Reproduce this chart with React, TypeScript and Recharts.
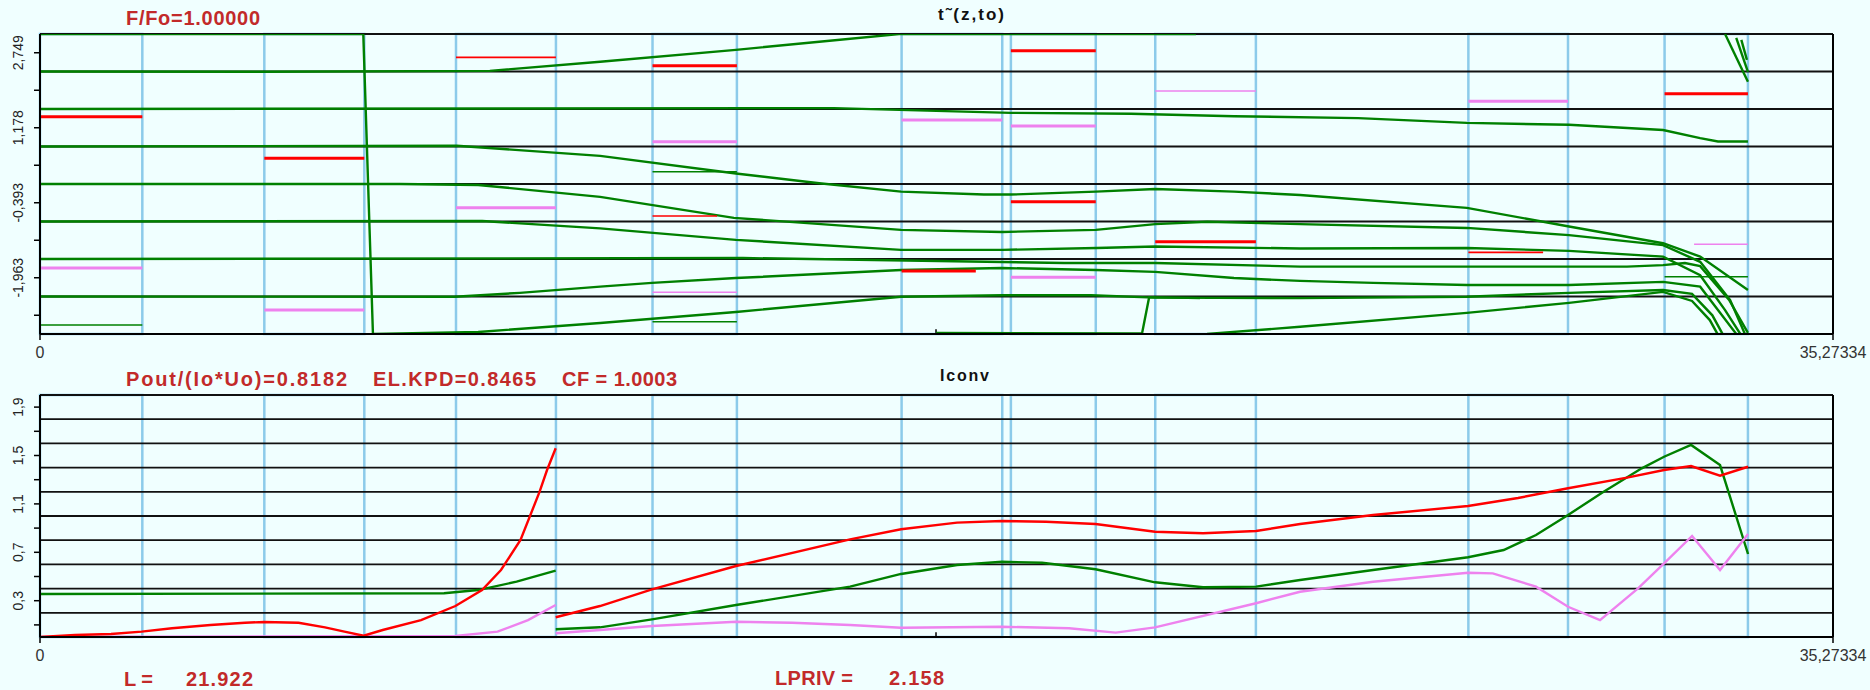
import { LineChart, Line, XAxis, YAxis, ReferenceLine, ReferenceArea } from 'recharts';

const PI = Math.PI;
const Z_MAX = 35.27334;

// cavity gaps along z: [start, end]
const cavities = [
  [0, 2.013], [4.413, 6.38], [8.184, 10.15], [12.05, 13.71], [16.95, 18.93],
  [19.1, 20.77], [21.94, 23.92], [28.1, 30.06], [31.96, 33.6],
];

// electron phase trajectories t~(z,to): [z, phase]
const trajA = [[0, 3.14], [6.36, 3.14], [6.55, -3.14], [8.62, -3.1], [11.02, -2.91], [13.69, -2.68], [16.94, -2.36], [18.93, -2.33], [20.68, -2.33], [21.94, -2.38], [24.79, -2.39], [28.07, -2.36], [30.08, -2.28], [31.93, -2.22], [32.5, -2.3], [32.9, -2.75], [33.1, -3.14]];
const trajB = [[0, 2.356], [4.41, 2.35], [8.85, 2.37], [11.02, 2.56], [13.69, 2.81], [15.33, 2.98], [16.9, 3.14], [22.74, 3.14]];
const trajC = [[0, 1.571], [15.62, 1.59], [19.1, 1.49], [21.46, 1.47], [23.49, 1.42], [25.93, 1.38], [28.07, 1.28], [30.08, 1.24], [31.93, 1.13], [32.66, 0.96], [33.01, 0.89], [33.6, 0.89]];
const trajD = [[0, 0.785], [8.2, 0.8], [11.02, 0.59], [13.69, 0.22], [15.33, 0.015], [16.94, -0.16], [18.57, -0.22], [19.1, -0.22], [20.77, -0.16], [21.94, -0.105], [23.49, -0.16], [24.79, -0.23], [28.07, -0.5], [30.08, -0.89], [31.93, -1.24], [32.66, -1.52], [33.6, -2.22]];
const trajE = [[0, 0], [7.08, 0], [8.62, -0.02], [11.02, -0.27], [13.65, -0.71], [16.94, -0.96], [18.93, -1.005], [20.77, -0.96], [21.94, -0.84], [22.96, -0.79], [24.79, -0.84], [28.07, -0.92], [30.08, -1.07], [31.93, -1.28], [32.66, -1.63], [33.25, -2.43], [33.54, -3.14]];
const trajF = [[0, -0.785], [8.7, -0.775], [11.02, -0.93], [13.69, -1.17], [16.94, -1.38], [18.93, -1.38], [20.78, -1.34], [21.94, -1.31], [24.79, -1.35], [28.07, -1.34], [30.08, -1.4], [31.93, -1.52], [32.66, -1.91], [33.15, -2.64], [33.45, -3.14]];
const trajG = [[0, -1.571], [13.83, -1.55], [20.15, -1.655], [21.94, -1.655], [24.79, -1.73], [31.22, -1.73], [31.93, -1.7], [32.36, -1.655], [32.66, -1.72], [33.23, -2.43], [33.6, -3.12]];
const trajH = [[0, -2.356], [8.16, -2.36], [9.44, -2.28], [11.02, -2.15], [12.04, -2.07], [13.69, -1.97], [16.94, -1.8], [18.93, -1.76], [20.77, -1.8], [21.94, -1.84], [23.49, -1.97], [24.79, -2.03], [26.23, -2.07], [28.07, -2.115], [30.08, -2.115], [31.93, -2.05], [32.66, -2.15], [33.37, -3.14]];
const trajI = [[17.63, -3.12], [21.68, -3.13], [21.82, -2.37], [22.82, -2.39]];
const trajJ = [[22.96, -3.14], [24.79, -2.99], [28.07, -2.7], [30.08, -2.49], [31.93, -2.26], [32.5, -2.45], [32.85, -2.85], [33.0, -3.14]];
const trajK = [[33.15, 3.14], [33.6, 2.14]];
const trajL = [[33.37, 3.06], [33.6, 2.35]];
const trajM = [[33.47, 3.02], [33.58, 2.6]];
const trajectories = [trajA, trajB, trajC, trajD, trajE, trajF, trajG, trajH, trajI, trajJ, trajK, trajL, trajM];

// short phase levels inside the gaps: [zStart, zEnd, phase]
const greenLevelsThin = [[0, 2.013, -2.953], [12.05, 13.71, -2.884], [12.05, 13.71, 0.258], [31.96, 33.6, -1.942]];
const redLevels = [[0, 2.013, 1.41], [4.413, 6.38, 0.538], [12.05, 13.71, 2.478], [16.95, 18.41, -1.822], [19.1, 20.77, 2.792], [19.1, 20.77, -0.37], [21.94, 23.92, -1.208], [31.96, 33.6, 1.891]];
const redLevelsThin = [[8.184, 10.15, 2.653], [12.05, 13.32, -0.67], [28.1, 29.57, -1.431]];
const pinkLevels = [[0, 2.013, -1.76], [4.413, 6.38, -2.64], [8.184, 10.15, -0.496], [12.05, 13.71, 0.886], [16.95, 18.93, 1.34], [19.1, 20.77, 1.215], [19.1, 20.77, -1.954], [28.1, 30.06, 1.732]];
const pinkLevelsThin = [[12.05, 13.71, -2.268], [21.94, 23.92, 1.948], [32.54, 33.6, -1.263]];

// Iconv curves: [z, value]
const iconvRed1 = [[0, 0], [0.689, 0.017], [1.397, 0.025], [1.999, 0.044], [2.597, 0.072], [3.354, 0.099], [4.033, 0.118], [4.407, 0.124], [5.086, 0.118], [5.607, 0.08], [5.989, 0.044], [6.366, 0.011], [6.742, 0.058], [7.496, 0.14], [8.172, 0.256], [8.696, 0.388], [9.069, 0.554], [9.453, 0.802], [9.829, 1.201], [9.975, 1.38], [10.145, 1.56]];
const iconvRed2 = [[10.145, 0.163], [11.017, 0.256], [12.04, 0.394], [13.693, 0.587], [15.936, 0.807], [16.939, 0.89], [18.04, 0.945], [18.926, 0.959], [19.792, 0.953], [20.766, 0.934], [21.936, 0.87], [22.88, 0.857], [23.923, 0.876], [24.789, 0.934], [26.225, 1.008], [28.094, 1.083], [29.077, 1.149], [30.061, 1.229], [31.222, 1.317], [31.95, 1.38], [32.481, 1.413], [33.051, 1.333], [33.602, 1.407]];
const iconvGreen1 = [[0, 0.355], [7.948, 0.361], [8.617, 0.388], [9.376, 0.457], [10.145, 0.548]];
const iconvGreen2 = [[10.145, 0.064], [11.017, 0.08], [12.04, 0.146], [13.693, 0.264], [15.936, 0.416], [16.939, 0.521], [18.04, 0.595], [18.926, 0.622], [19.713, 0.614], [20.766, 0.56], [21.936, 0.452], [22.88, 0.411], [23.923, 0.416], [24.789, 0.471], [26.225, 0.554], [28.094, 0.659], [28.794, 0.719], [29.431, 0.843], [30.061, 1.008], [30.73, 1.193], [31.511, 1.394], [31.95, 1.49], [32.481, 1.587], [33.051, 1.421], [33.602, 0.686]];
const iconvPink1 = [[0, 0], [8.172, 0.008], [9.001, 0.044], [9.601, 0.14], [10.145, 0.264]];
const iconvPink2 = [[10.145, 0.031], [11.017, 0.058], [12.04, 0.091], [13.693, 0.126], [14.794, 0.118], [15.936, 0.099], [16.939, 0.077], [18.926, 0.085], [20.244, 0.072], [21.161, 0.036], [21.936, 0.08], [23.923, 0.279], [24.789, 0.374], [26.225, 0.457], [28.094, 0.531], [28.58, 0.526], [29.431, 0.416], [30.061, 0.25], [30.69, 0.14], [31.438, 0.402], [31.95, 0.609], [32.501, 0.835], [33.051, 0.554], [33.602, 0.851]];

// axes
const zTicks = [0, Z_MAX];
const zTickLabels = ['0', '35,27334'];
const markerZ = 17.627;
const phaseTicks = [7 * PI / 8, 5 * PI / 8, 3 * PI / 8, PI / 8, -PI / 8, -3 * PI / 8, -5 * PI / 8, -7 * PI / 8];
const phaseTickLabels = ['2,749', '', '1,178', '', '-0,393', '', '-1,963', ''];
const phaseGrid = [-PI, -3 * PI / 4, -PI / 2, -PI / 4, 0, PI / 4, PI / 2, 3 * PI / 4, PI];
const iconvTicks = [1.9, 1.7, 1.5, 1.3, 1.1, 0.9, 0.7, 0.5, 0.3, 0.1];
const iconvTickLabels = ['1,9', '', '1,5', '', '1,1', '', '0,7', '', '0,3', ''];
const iconvGrid = [0, 0.2, 0.4, 0.6, 0.8, 1, 1.2, 1.4, 1.6, 1.8, 2];

const FONT = '"Liberation Sans", Arial, sans-serif';
const BG = '#f0ffff';
const GREEN = '#008000';
const RED = '#ff0000';
const PINK = '#ee82ee';
const BLUE = '#8ccbea';
const TITLE_RED = '#c22a2a';

const toPts = (arr: number[][]) => arr.map(([z, v]) => ({ z, v }));
const toSeg = ([a, b, v]: number[]) => [{ z: a, v }, { z: b, v }];

const findLabel = (ticks: number[], labels: string[], value: number) => {
  const i = ticks.findIndex((t) => Math.abs(t - value) < 1e-6);
  return i >= 0 ? labels[i] : '';
};

const makeYTick = (ticks: number[], labels: string[]) => (props: any) => {
  const { x, y, payload } = props;
  const label = findLabel(ticks, labels, payload.value);
  const cx = x - 14;
  return (
    <text x={cx} y={y} transform={`rotate(-90 ${cx} ${y})`} textAnchor="middle" dominantBaseline="central"
      fontSize={14} fill="#222" fontFamily={FONT}>{label}</text>
  );
};

const ZTick = (props: any) => {
  const { x, y, payload } = props;
  return (
    <text x={x} y={y + 10} textAnchor="middle" dominantBaseline="central" fontSize={16} fill="#333" fontFamily={FONT}>
      {findLabel(zTicks, zTickLabels, payload.value)}
    </text>
  );
};

const PhaseTick = makeYTick(phaseTicks, phaseTickLabels);
const IconvTick = makeYTick(iconvTicks, iconvTickLabels);

const axisLine = { stroke: '#000', strokeWidth: 2 };
const tickLine = { stroke: '#000', strokeWidth: 1.5 };

function levelLines(levels: number[][], color: string, width: number, key: string) {
  return levels.map((s, i) => (
    <Line key={`${key}${i}`} data={toSeg(s)} dataKey="v" stroke={color} strokeWidth={width}
      dot={false} activeDot={false} isAnimationActive={false} />
  ));
}

function curve(arr: number[][], color: string, width: number, key: string) {
  return (
    <Line key={key} data={toPts(arr)} dataKey="v" type="linear" stroke={color} strokeWidth={width}
      dot={false} activeDot={false} isAnimationActive={false} />
  );
}

export default function App() {
  return (
    <div style={{ position: 'fixed', left: 0, top: 0, width: 1870, height: 690, background: BG, overflow: 'hidden' }}>
      <div style={{ position: 'absolute', left: 0, top: 0 }}>
        <LineChart width={1870} height={365} margin={{ top: 34, right: 37, bottom: 0, left: 0 }}>
          <XAxis type="number" dataKey="z" domain={[0, Z_MAX]} ticks={zTicks} interval={0} allowDataOverflow
            height={31} tickSize={6} axisLine={axisLine} tickLine={tickLine} tick={<ZTick />} />
          <YAxis type="number" domain={[-PI, PI]} ticks={phaseTicks} interval={0} allowDataOverflow
            width={40} tickSize={6} axisLine={axisLine} tickLine={tickLine} tick={<PhaseTick />} />
          {phaseGrid.map((g) => (
            <ReferenceLine key={`g${g}`} y={g} stroke="#111" strokeWidth={1.8} />
          ))}
          <ReferenceLine x={Z_MAX} stroke="#000" strokeWidth={2} />
          <ReferenceLine segment={[{ x: markerZ, y: -PI }, { x: markerZ, y: -PI + 0.1 }]} stroke="#000" strokeWidth={1.5} />
          {cavities.map(([a, b]) => (
            <ReferenceArea key={`c${a}`} x1={a} x2={b} y1={-PI} y2={PI} fill="none" fillOpacity={0}
              stroke={BLUE} strokeWidth={2.5} />
          ))}
          {trajectories.map((t, i) => curve(t, GREEN, 2.4, `t${i}`))}
          {levelLines(greenLevelsThin, GREEN, 1.4, 'gl')}
          {levelLines(pinkLevels, PINK, 3, 'pk')}
          {levelLines(pinkLevelsThin, PINK, 1.6, 'pt')}
          {levelLines(redLevels, RED, 3, 'rk')}
          {levelLines(redLevelsThin, RED, 1.6, 'rt')}
        </LineChart>
      </div>
      <div style={{ position: 'absolute', left: 0, top: 365 }}>
        <LineChart width={1870} height={325} margin={{ top: 30, right: 37, bottom: 22, left: 0 }}>
          <XAxis type="number" dataKey="z" domain={[0, Z_MAX]} ticks={zTicks} interval={0} allowDataOverflow
            height={31} tickSize={6} axisLine={axisLine} tickLine={tickLine} tick={<ZTick />} />
          <YAxis type="number" domain={[0, 2]} ticks={iconvTicks} interval={0} allowDataOverflow
            width={40} tickSize={6} axisLine={axisLine} tickLine={tickLine} tick={<IconvTick />} />
          {iconvGrid.map((g) => (
            <ReferenceLine key={`h${g}`} y={g} stroke="#111" strokeWidth={1.8} />
          ))}
          <ReferenceLine x={Z_MAX} stroke="#000" strokeWidth={2} />
          <ReferenceLine segment={[{ x: markerZ, y: 0 }, { x: markerZ, y: 0.04 }]} stroke="#000" strokeWidth={1.5} />
          {cavities.map(([a, b]) => (
            <ReferenceArea key={`d${a}`} x1={a} x2={b} y1={0} y2={2} fill="none" fillOpacity={0}
              stroke={BLUE} strokeWidth={2.5} />
          ))}
          {curve(iconvGreen1, GREEN, 2.4, 'g1')}
          {curve(iconvGreen2, GREEN, 2.4, 'g2')}
          {curve(iconvPink1, PINK, 2.4, 'p1')}
          {curve(iconvPink2, PINK, 2.4, 'p2')}
          {curve(iconvRed1, RED, 2.4, 'r1')}
          {curve(iconvRed2, RED, 2.4, 'r2')}
        </LineChart>
      </div>
      <svg width={1870} height={690} style={{ position: 'absolute', left: 0, top: 0, pointerEvents: 'none' }}>
        <g fontFamily={FONT} fontWeight="bold">
          <text x={126} y={25} fontSize={20} fill={TITLE_RED} textLength={134} lengthAdjust="spacing">F/Fo=1.00000</text>
          <text x={938} y={20} fontSize={17} fill="#111" textLength={66} lengthAdjust="spacing">t˜(z,to)</text>
          <text x={126} y={386} fontSize={20} fill={TITLE_RED} textLength={221} lengthAdjust="spacing">Pout/(Io*Uo)=0.8182</text>
          <text x={373} y={386} fontSize={20} fill={TITLE_RED} textLength={163} lengthAdjust="spacing">EL.KPD=0.8465</text>
          <text x={562} y={386} fontSize={20} fill={TITLE_RED} textLength={115} lengthAdjust="spacing">CF = 1.0003</text>
          <text x={940} y={381} fontSize={16} fill="#111" textLength={49} lengthAdjust="spacing">Iconv</text>
          <text x={124} y={686} fontSize={20} fill={TITLE_RED} textLength={29} lengthAdjust="spacing">L =</text>
          <text x={186} y={686} fontSize={20} fill={TITLE_RED} textLength={67} lengthAdjust="spacing">21.922</text>
          <text x={775} y={685} fontSize={20} fill={TITLE_RED} textLength={78} lengthAdjust="spacing">LPRIV =</text>
          <text x={889} y={685} fontSize={20} fill={TITLE_RED} textLength={55} lengthAdjust="spacing">2.158</text>
        </g>
      </svg>
    </div>
  );
}
